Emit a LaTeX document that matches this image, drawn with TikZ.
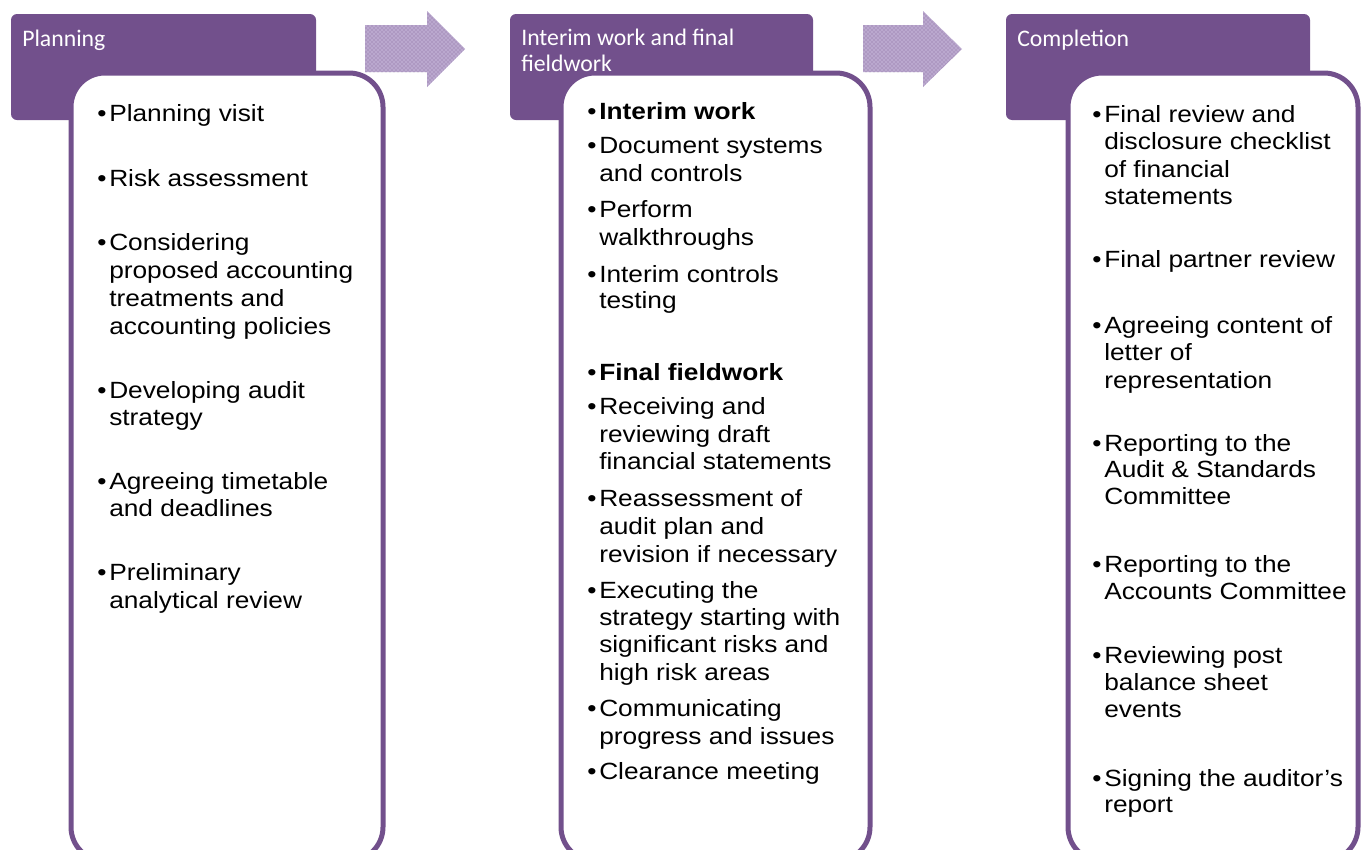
\documentclass[tikz,border=0pt]{standalone}
\usepackage{fontspec}
\setmainfont{Liberation Sans}[FakeStretch=1.12]
\newfontfamily\headfont{Carlito}
\usetikzlibrary{patterns}
\definecolor{hdr}{RGB}{114,80,140}
\definecolor{arw}{RGB}{186,168,206}
\newcommand\bline[4]{\node[btext] (#1) at (#2,#3) {#4};}
\newcommand\bdot[3]{\node[btext] (#1) at (#2,#3) {\textbullet};}
\begin{document}
\begin{tikzpicture}[x=0.75pt,y=-0.75pt,
  hdrbox/.style={fill=hdr, rounded corners=4.5pt},
  bodybox/.style={fill=white, draw=hdr, line width=3.75pt, rounded corners=25.5pt},
  arrowshape/.style={fill=arw},
  arrowdots/.style={pattern=crosshatch dots, pattern color=hdr!85},
  htext/.style={anchor=base west, inner sep=0pt, text=white, font=\headfont\fontsize{17.8}{19.5}\selectfont},
  btext/.style={anchor=base west, inner sep=0pt, text=black, font=\fontsize{17.6}{21}\selectfont}]
\useasboundingbox (0,0) rectangle (1368,850);
\clip (0,0) rectangle (1368,850);
\fill[white] (0,0) rectangle (1368,850);

% arrows
\foreach \xa/\xb/\xc in {365/427/465, 863/923/962}{
  \fill[arrowshape] (\xa,25) -- (\xb,25) -- (\xb,11) -- (\xc,49) -- (\xb,87) -- (\xb,72) -- (\xa,72) -- cycle;
  \fill[arrowdots] (\xa,25) -- (\xb,25) -- (\xb,11) -- (\xc,49) -- (\xb,87) -- (\xb,72) -- (\xa,72) -- cycle;
}

% headers
\fill[hdrbox] (11,14) rectangle (316,120);
\fill[hdrbox] (510,14) rectangle (813,120);
\fill[hdrbox] (1006,14) rectangle (1310,120);

% body boxes
\draw[bodybox] (71,73) rectangle (383,861);
\draw[bodybox] (561,73) rectangle (870,861);
\draw[bodybox] (1068,73) rectangle (1358,861);

% header texts
\node[htext] (h1) at (22,46) {Planning};
\node[htext] (h2a) at (521,45) {Interim work and final};
\node[htext] (h2b) at (521,71) {fieldwork};
\node[htext] (h3) at (1017,46) {Completion};

% box 1
\bdot{d1a}{97}{121} \bline{t1a}{109}{121}{Planning visit}
\bdot{d1b}{97}{186} \bline{t1b}{109}{186}{Risk assessment}
\bdot{d1c}{97}{250} \bline{t1c}{109}{250}{Considering}
\bline{t1c2}{109}{278}{proposed accounting}
\bline{t1c3}{109}{306}{treatments and}
\bline{t1c4}{109}{334}{accounting policies}
\bdot{d1d}{97}{398} \bline{t1d}{109}{398}{Developing audit}
\bline{t1d2}{109}{425}{strategy}
\bdot{d1e}{97}{489} \bline{t1e}{109}{489}{Agreeing timetable}
\bline{t1e2}{109}{516}{and deadlines}
\bdot{d1f}{97}{580} \bline{t1f}{109}{580}{Preliminary}
\bline{t1f2}{109}{608}{analytical review}

% box 2
\bdot{d2a}{587}{119} \bline{t2a}{599}{119}{\bfseries Interim work}
\bdot{d2b}{587}{153} \bline{t2b}{599}{153}{Document systems}
\bline{t2b2}{599}{181}{and controls}
\bdot{d2c}{587}{217} \bline{t2c}{599}{217}{Perform}
\bline{t2c2}{599}{245}{walkthroughs}
\bdot{d2d}{587}{282} \bline{t2d}{599}{282}{Interim controls}
\bline{t2d2}{599}{308}{testing}
\bdot{d2e}{587}{380} \bline{t2e}{599}{380}{\bfseries Final fieldwork}
\bdot{d2f}{587}{414} \bline{t2f}{599}{414}{Receiving and}
\bline{t2f2}{599}{442}{reviewing draft}
\bline{t2f3}{599}{469}{financial statements}
\bdot{d2g}{587}{506} \bline{t2g}{599}{506}{Reassessment of}
\bline{t2g2}{599}{534}{audit plan and}
\bline{t2g3}{599}{562}{revision if necessary}
\bdot{d2h}{587}{598} \bline{t2h}{599}{598}{Executing the}
\bline{t2h2}{599}{625}{strategy starting with}
\bline{t2h3}{599}{652}{significant risks and}
\bline{t2h4}{599}{680}{high risk areas}
\bdot{d2i}{587}{716} \bline{t2i}{599}{716}{Communicating}
\bline{t2i2}{599}{744}{progress and issues}
\bdot{d2j}{587}{779} \bline{t2j}{599}{779}{Clearance meeting}

% box 3
\bdot{d3a}{1092}{122} \bline{t3a}{1104}{122}{Final review and}
\bline{t3a2}{1104}{149}{disclosure checklist}
\bline{t3a3}{1104}{177}{of financial}
\bline{t3a4}{1104}{204}{statements}
\bdot{d3b}{1092}{267} \bline{t3b}{1104}{267}{Final partner review}
\bdot{d3c}{1092}{333} \bline{t3c}{1104}{333}{Agreeing content of}
\bline{t3c2}{1104}{360}{letter of}
\bline{t3c3}{1104}{388}{representation}
\bdot{d3d}{1092}{451} \bline{t3d}{1104}{451}{Reporting to the}
\bline{t3d2}{1104}{477}{Audit \& Standards}
\bline{t3d3}{1104}{504}{Committee}
\bdot{d3e}{1092}{572} \bline{t3e}{1104}{572}{Reporting to the}
\bline{t3e2}{1104}{599}{Accounts Committee}
\bdot{d3f}{1092}{663} \bline{t3f}{1104}{663}{Reviewing post}
\bline{t3f2}{1104}{690}{balance sheet}
\bline{t3f3}{1104}{717}{events}
\bdot{d3g}{1092}{786} \bline{t3g}{1104}{786}{Signing the auditor’s}
\bline{t3g2}{1104}{812}{report}
\end{tikzpicture}
\end{document}
